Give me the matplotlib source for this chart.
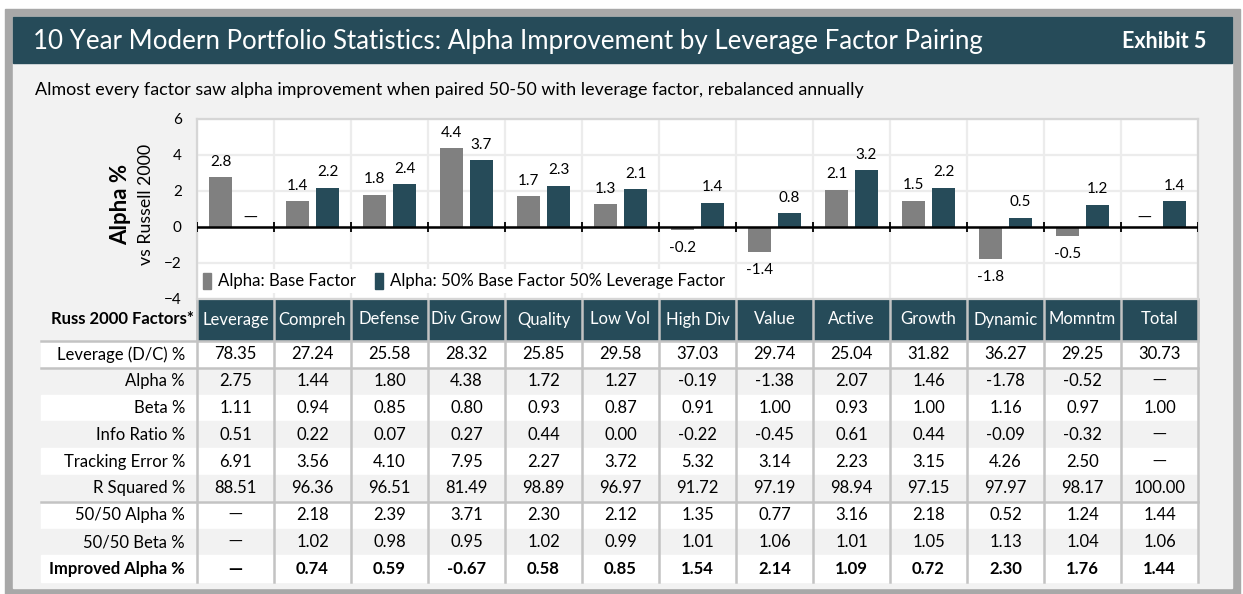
import numpy as np
import matplotlib
matplotlib.use('Agg')
import matplotlib.pyplot as plt
from matplotlib.patches import Rectangle

plt.rcParams['font.family'] = ['Lato', 'DejaVu Sans']

# ---- data ----
factors = ['Leverage', 'Compreh', 'Defense', 'Div Grow', 'Quality', 'Low Vol', 'High Div',
           'Value', 'Active', 'Growth', 'Dynamic', 'Momntm', 'Total']
lev_dc = [78.35, 27.24, 25.58, 28.32, 25.85, 29.58, 37.03, 29.74, 25.04, 31.82, 36.27, 29.25, 30.73]
alpha = [2.75, 1.44, 1.80, 4.38, 1.72, 1.27, -0.19, -1.38, 2.07, 1.46, -1.78, -0.52, None]
beta = [1.11, 0.94, 0.85, 0.80, 0.93, 0.87, 0.91, 1.00, 0.93, 1.00, 1.16, 0.97, 1.00]
info_ratio = [0.51, 0.22, 0.07, 0.27, 0.44, 0.00, -0.22, -0.45, 0.61, 0.44, -0.09, -0.32, None]
track_err = [6.91, 3.56, 4.10, 7.95, 2.27, 3.72, 5.32, 3.14, 2.23, 3.15, 4.26, 2.50, None]
r_squared = [88.51, 96.36, 96.51, 81.49, 98.89, 96.97, 91.72, 97.19, 98.94, 97.15, 97.97, 98.17, 100.00]
alpha_5050 = [None, 2.18, 2.39, 3.71, 2.30, 2.12, 1.35, 0.77, 3.16, 2.18, 0.52, 1.24, 1.44]
beta_5050 = [None, 1.02, 0.98, 0.95, 1.02, 0.99, 1.01, 1.06, 1.01, 1.05, 1.13, 1.04, 1.06]
improved = [None, 0.74, 0.59, -0.67, 0.58, 0.85, 1.54, 2.14, 1.09, 0.72, 2.30, 1.76, 1.44]

row_labels = ['Leverage (D/C) %', 'Alpha %', 'Beta %', 'Info Ratio %', 'Tracking Error %',
              'R Squared %', '50/50 Alpha %', '50/50 Beta %', 'Improved Alpha %']
rows = [lev_dc, alpha, beta, info_ratio, track_err, r_squared, alpha_5050, beta_5050, improved]

title = '10 Year Modern Portfolio Statistics: Alpha Improvement by Leverage Factor Pairing'
subtitle = 'Almost every factor saw alpha improvement when paired 50-50 with leverage factor, rebalanced annually'

teal = '#264b59'
grey_bar = '#808080'
panel = '#f2f2f2'
sep = '#c3c3c3'

W, H = 1243, 594
fig = plt.figure(figsize=(W / 100, H / 100), dpi=100)

# background layer in pixel coords (y down)
bg = fig.add_axes([0, 0, 1, 1])
bg.set_xlim(0, W)
bg.set_ylim(H, 0)
bg.axis('off')

bg.add_patch(Rectangle((5, 9), 1235, 585, color='#a8a8a8'))
bg.add_patch(Rectangle((13, 17), 1219, 571, color=panel))
bg.add_patch(Rectangle((13, 17), 1219, 46, color=teal))
bg.text(33, 41, title, color='white', fontsize=18.6, va='center')
bg.text(1206, 41, 'Exhibit 5', color='white', fontsize=15.5, fontweight='bold', va='center', ha='right')
bg.text(35, 90, subtitle, fontsize=12.9, va='center')

bg.text(121, 204, 'Alpha %', rotation=90, fontsize=16, fontweight='bold', ha='center', va='center')
bg.text(146, 204, 'vs Russell 2000', rotation=90, fontsize=12.8, ha='center', va='center')

# ---- bar chart ----
x0, x1, ytop, ybot = 197, 1198, 119, 299
n = len(factors)
ax = fig.add_axes([x0 / W, 1 - ybot / H, (x1 - x0) / W, (ybot - ytop) / H])
ax.set_facecolor('white')
ax.set_xlim(-0.5, n - 0.5)
ax.set_ylim(-4, 6)
ax.set_yticks(range(-4, 7, 2))
ax.set_xticks(np.arange(-0.5, n, 1))
ax.grid(True, color='#ececec', lw=1.6)
ax.set_axisbelow(True)
ax.tick_params(length=0, labelbottom=False, labelsize=11, pad=11)
for s in ax.spines.values():
    s.set_color('#d6d6d6')
    s.set_linewidth(1.6)

ax.axhline(0, color='black', lw=1.8, zorder=4)
ax.vlines(np.arange(-0.5, n, 1), -0.27, 0.27, color='black', lw=1.3, zorder=4)

bw, off = 0.3, 0.195
for i in range(n):
    for vals, dx, c in [(alpha, -off, grey_bar), (alpha_5050, off, teal)]:
        v = vals[i]
        if v is None:
            ax.annotate('—', (i + dx, 0), xytext=(0, 6.5), textcoords='offset points',
                        ha='center', va='center', fontsize=10, family='DejaVu Sans')
            continue
        ax.bar(i + dx, v, bw, color=c, zorder=3)
        if v >= 0:
            ax.annotate(f'{v:.1f}', (i + dx, v), xytext=(0, 11), textcoords='offset points',
                        ha='center', va='center', fontsize=11)
        else:
            ax.annotate(f'{v:.1f}', (i + dx, v), xytext=(0, -13), textcoords='offset points',
                        ha='center', va='center', fontsize=11)

handles = [Rectangle((0, 0), 1, 1, color=grey_bar), Rectangle((0, 0), 1, 1, color=teal)]
leg = ax.legend(handles, ['Alpha: Base Factor', 'Alpha: 50% Base Factor 50% Leverage Factor'],
                loc='lower left', bbox_to_anchor=(0.003, 0.035), ncol=2, fontsize=12.1,
                handlelength=0.45, handleheight=1.1, handletextpad=0.45, columnspacing=1.1,
                frameon=True, facecolor='white', edgecolor='none', framealpha=1,
                borderpad=0.2, borderaxespad=0)
leg.set_zorder(5)

# ---- table ----
col_w = (x1 - x0) / n
hdr_top, hdr_bot = 299, 340
row_top, row_h = 341, 26.8
tab_left = 41
tab_bot = row_top + row_h * len(rows)

for i, name in enumerate(factors):
    bg.add_patch(Rectangle((x0 + i * col_w, hdr_top), col_w, hdr_bot - hdr_top, color=teal))
    bg.text(x0 + (i + 0.5) * col_w, (hdr_top + hdr_bot) / 2, name, color='white',
            fontsize=12, ha='center', va='center')
bg.text(194, (hdr_top + hdr_bot) / 2, 'Russ 2000 Factors*', fontsize=12, fontweight='bold',
        ha='right', va='center')

for r, (lab, vals) in enumerate(zip(row_labels, rows)):
    yt = row_top + r * row_h
    yc = yt + row_h / 2
    shade = 'white' if r % 2 == 0 else panel
    bg.add_patch(Rectangle((tab_left, yt), x1 - tab_left, row_h, color=shade))
    wt = 'bold' if r == len(rows) - 1 else 'normal'
    bg.text(185, yc, lab, fontsize=12, ha='right', va='center', fontweight=wt)
    for i, v in enumerate(vals):
        xc = x0 + (i + 0.5) * col_w
        if v is None:
            bg.text(xc, yc, '—', fontsize=10, ha='center', va='center', fontweight=wt,
                    family='DejaVu Sans')
        else:
            bg.text(xc, yc, f'{v:.2f}', fontsize=12, ha='center', va='center', fontweight=wt)

for i in range(n + 1):
    bg.plot([x0 + i * col_w] * 2, [hdr_top, tab_bot], color=sep, lw=1.8)
for y in [row_top, row_top + row_h, row_top + 6 * row_h]:
    bg.plot([tab_left, x1], [y, y], color=sep, lw=1.8)

fig.savefig('out.png', dpi=100)
